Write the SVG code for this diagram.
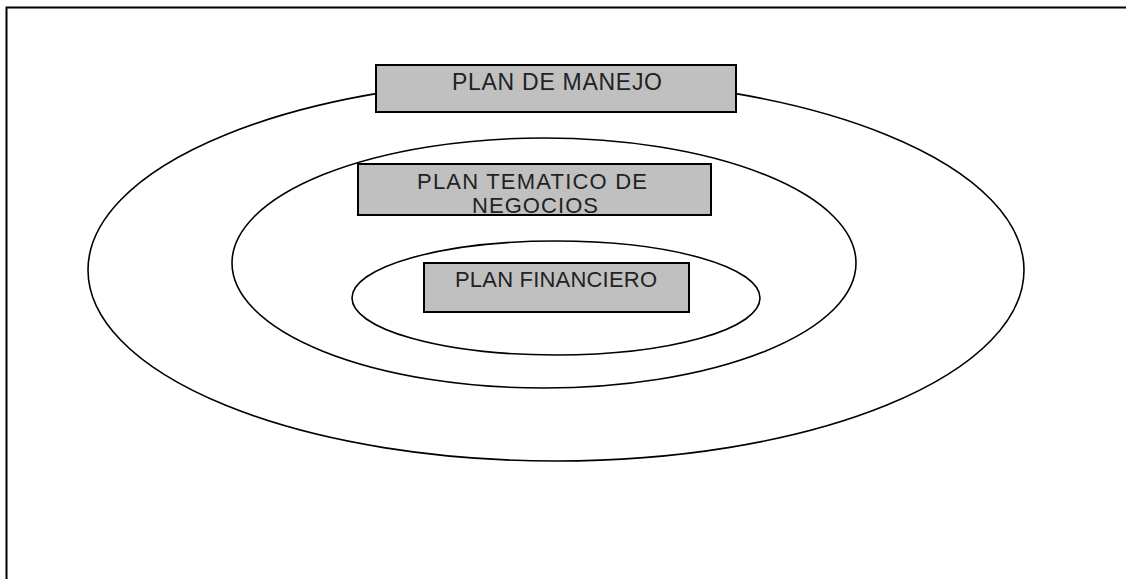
<svg xmlns="http://www.w3.org/2000/svg" width="1126" height="579" viewBox="0 0 1126 579">
<style>
.ring{fill:none;stroke:#000;stroke-width:1.6}
.box{fill:#c0c0c0;stroke:#000;stroke-width:2}
.lbl{font-family:"Liberation Sans",Arial,sans-serif;font-size:22px;fill:#222}
.big{font-size:23px}
</style>
<rect width="1126" height="579" fill="#fff"/>
<path d="M6.5 579 V7.5 H1126" fill="none" stroke="#000" stroke-width="2"/>
<g id="rings">
<ellipse id="outer" class="ring" cx="556" cy="270" rx="468" ry="191"/>
<ellipse id="middle" class="ring" cx="544" cy="263" rx="312" ry="125"/>
<ellipse id="inner" class="ring" cx="556" cy="298" rx="204" ry="57"/>
</g>
<g id="plan-manejo">
<rect class="box" x="376" y="65" width="360" height="47"/>
<text class="lbl big" x="452" y="90" textLength="210" lengthAdjust="spacing">PLAN DE MANEJO</text>
</g>
<g id="plan-tematico">
<rect class="box" x="358" y="164" width="353" height="51"/>
<text class="lbl" x="417" y="189" textLength="230" lengthAdjust="spacing">PLAN TEMATICO DE</text>
<text class="lbl" x="472" y="213" textLength="126" lengthAdjust="spacing">NEGOCIOS</text>
</g>
<g id="plan-financiero">
<rect class="box" x="424" y="263" width="265" height="49"/>
<text class="lbl" x="455" y="287" textLength="202" lengthAdjust="spacing">PLAN FINANCIERO</text>
</g>
<g id="connectors"></g>
</svg>
